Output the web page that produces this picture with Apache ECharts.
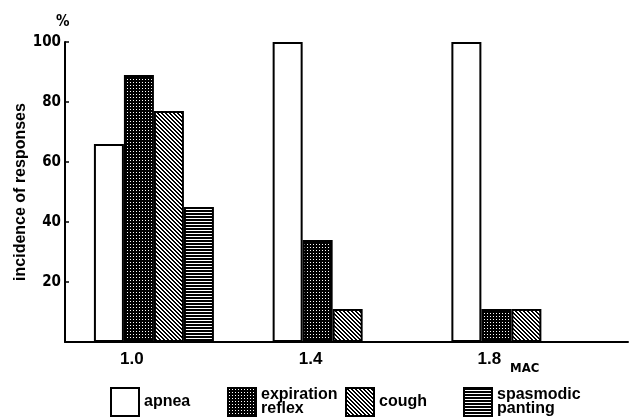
<!DOCTYPE html>
<html><head><meta charset="utf-8">
<script src="https://cdn.jsdelivr.net/npm/echarts@6/dist/echarts.min.js"></script>
<style>html,body{margin:0;padding:0;background:#fff}#c{width:630px;height:418px}</style>
</head><body><div id="c"></div>
<script>
const categories = ['1.0', '1.4', '1.8'];
const apnea = [66, 100, 100];
const expirationReflex = [89, 34, 11];
const cough = [77, 11, 11];
const spasmodicPanting = [45, null, null];
const seriesNames = ['apnea', 'expiration reflex', 'cough', 'spasmodic panting'];

function pat(w, h, draw) {
  const c = document.createElement('canvas');
  c.width = w; c.height = h;
  const g = c.getContext('2d');
  g.fillStyle = '#fff'; g.fillRect(0, 0, w, h);
  g.fillStyle = '#000';
  draw(g);
  return { image: c, repeat: 'repeat' };
}
const dots = pat(3, 3, g => { g.fillRect(0, 0, 3, 3); g.fillStyle = '#fff'; g.fillRect(1, 1, 1, 1); });
const diag = pat(4, 4, g => { for (let i = 0; i < 4; i++) { g.fillRect(i, i, 1, 1); g.fillRect((i + 1) % 4, i, 1, 1); } });
const horiz = pat(1, 3, g => { g.fillRect(0, 0, 1, 2); });
const fills = ['#ffffff', dots, diag, horiz];
const values = [apnea, expirationReflex, cough, spasmodicPanting];

const xVals = categories.map(Number);
const narrow = "'DejaVu Sans Condensed', 'Liberation Sans Narrow', sans-serif";
const sans = "'Liberation Sans', Arial, sans-serif";

const series = seriesNames.map((name, k) => ({
  name, type: 'bar',
  data: values[k].map((v, i) => [xVals[i], v]),
  barWidth: 30, barGap: '0%',
  itemStyle: { color: fills[k], borderColor: '#000', borderWidth: 2 },
  silent: true
}));

const legendPos = [110, 227, 345, 463];
const legends = seriesNames.map((n, k) => ({
  left: legendPos[k], top: 387, padding: 0, data: [n], icon: 'rect',
  itemWidth: 28, itemHeight: 28, selectedMode: false,
  itemStyle: { borderColor: '#000', borderWidth: 2 },
  formatter: s => s.replace(' ', '\n'),
  textStyle: { fontFamily: sans, fontSize: 16, fontWeight: 'bold', color: '#000', lineHeight: 14 }
}));

const chart = echarts.init(document.getElementById('c'), null, { renderer: 'canvas' });
chart.setOption({
  animation: false,
  backgroundColor: '#fff',
  title: [
    { text: '%', left: 51, top: 10, textStyle: { fontFamily: narrow, fontSize: 15, fontWeight: 'bold', color: '#000' } },
    { text: 'MAC', left: 505, top: 357, textStyle: { fontFamily: narrow, fontSize: 13, fontWeight: 'bold', color: '#000' } }
  ],
  legend: legends,
  grid: { left: 65, right: 2, top: 42, bottom: 76 },
  xAxis: {
    type: 'value', min: 0.801, max: 2.061,
    axisLine: { show: true, lineStyle: { color: '#000', width: 2 } },
    axisTick: { show: false }, splitLine: { show: false },
    axisLabel: {
      customValues: xVals,
      margin: 9, padding: [0, 44, 0, 0], color: '#000', fontFamily: sans, fontSize: 17, fontWeight: 'bold',
      formatter: v => Number(v).toFixed(1)
    }
  },
  yAxis: {
    type: 'value', min: 0, max: 100, interval: 20,
    name: 'incidence of responses', nameLocation: 'middle', nameGap: 36, nameRotate: 90, nameMoveOverlap: false,
    nameTextStyle: { fontFamily: sans, fontSize: 16, fontWeight: 'bold', color: '#000' },
    axisLine: { show: true, lineStyle: { color: '#000', width: 2 } },
    axisTick: { show: true, inside: true, length: 4, lineStyle: { color: '#000', width: 1.5 } },
    splitLine: { show: false },
    axisLabel: { showMinLabel: false, margin: 4, color: '#000', fontFamily: narrow, fontSize: 15, fontWeight: 'bold' }
  },
  series
});
</script></body></html>
